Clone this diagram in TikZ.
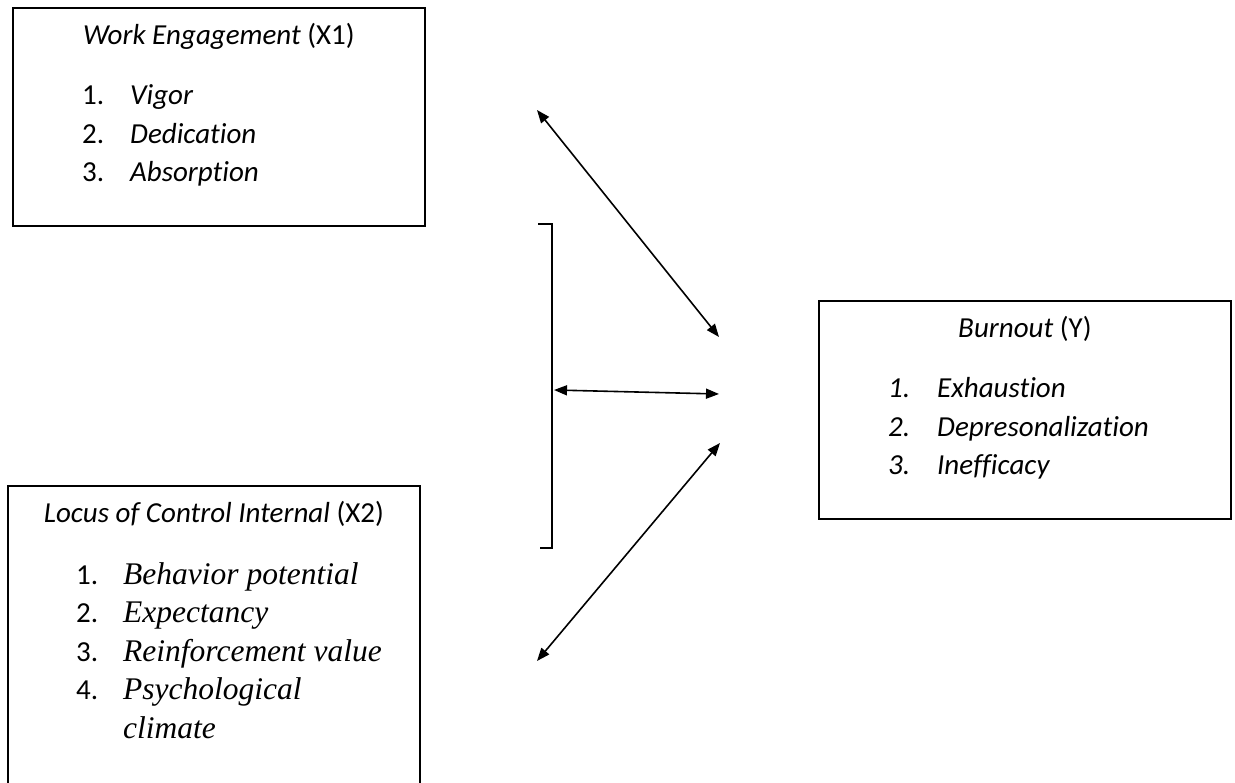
\documentclass[tikz,border=0pt]{standalone}
\usepackage{array}
\usepackage{fontspec}
\setmainfont{Carlito}[Ligatures=NoCommon]
\newfontfamily\timesfont{Liberation Serif}
\usepackage{tikz}
\usetikzlibrary{positioning}
\usetikzlibrary{arrows.meta}

\begin{document}
\begin{tikzpicture}[x=1pt,y=-1pt,>={Triangle[length=13pt,width=10pt]},
		box/.style={rectangle,draw=black,line width=1.8pt,anchor=north west,minimum width=412pt,minimum height=218pt},
		title/.style={inner sep=0pt,font=\fontsize{29}{38.5}\selectfont},
		list/.style={inner sep=0pt,font=\fontsize{29}{38.5}\selectfont},
		link/.style={<->,line width=1.6pt}]
		\clip (0,0) rectangle (1235,783);
		
		\node[box]                          (wengage) at (12,7)   {};
		\node[box]                          (burnout) at (818,300) {};
		\node[box,minimum height=330pt]     (locus)   at (7,485)  {};
		
		% titles
		\node[title, below=38pt of wengage.north, anchor=base] (wtitle) {\textit{Work Engagement} (X1)};
		\node[title, below=38pt of burnout.north, anchor=base] (btitle) {\textit{Burnout} (Y)};
		\node[title, below=37pt of locus.north, anchor=base]   (ltitle) {\textit{Locus of Control Internal} (X2)};
		
		% indicators
		\node[list, below right=98pt and 70pt of wengage.north west, anchor=base west] (wlist)
		{\begin{tabular}[t]{@{}p{48pt}@{}l@{}} 1. & \textit{Vigor}\\ 2. & \textit{Dedication}\\ 3. & \textit{Absorption}\end{tabular}};
		\node[list, below right=98pt and 70pt of burnout.north west, anchor=base west] (blist)
		{\begin{tabular}[t]{@{}p{49pt}@{}l@{}} \textit{1.} & \textit{Exhaustion}\\ \textit{2.} & \textit{Depresonalization}\\ \textit{3.} & \textit{Inefficacy}\end{tabular}};
		\node[list, below right=99pt and 69pt of locus.north west, anchor=base west] (llist)
		{\begin{tabular}[t]{@{}p{47pt}@{}>{\timesfont\itshape\fontsize{31.5}{38.7}\selectfont}l@{}} 1. & Behavior potential\\ 2. & Expectancy\\ 3. & Reinforcement value\\ 4. & Psychological\\ & climate\end{tabular}};
		
		\coordinate (w1) at (537,110);
		\coordinate (b1) at (719,337);
		\coordinate (m1) at (554,390);
		\coordinate (b2) at (719,394);
		\coordinate (b3) at (720,443);
		\coordinate (l1) at (537,661);
		
		\draw[line width=1.2pt] (538,224) -- (552,224) -- (552,548) -- (540,548);
		
		\draw[link] (w1) -- (b1);
		\draw[link] (m1) -- (b2);
		\draw[link] (b3) -- (l1);
\end{tikzpicture}
\end{document}
